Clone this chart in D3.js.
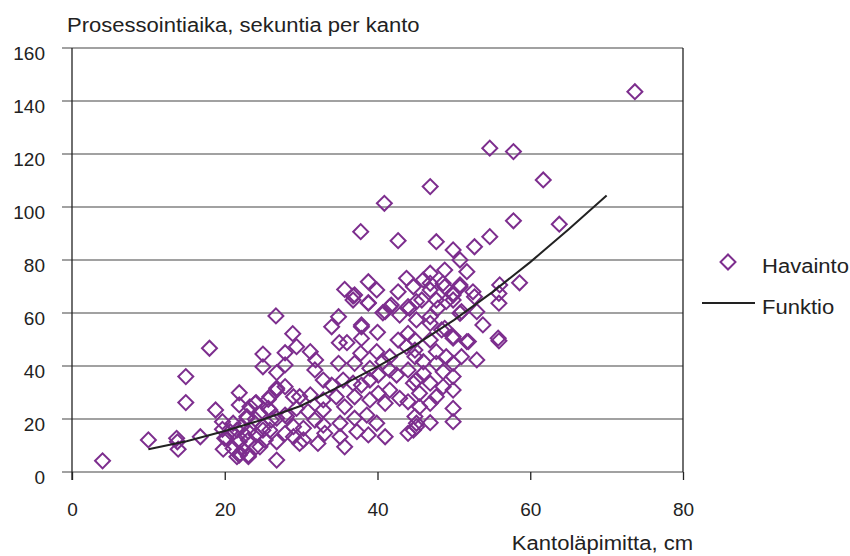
<!DOCTYPE html>
<html>
<head>
<meta charset="utf-8">
<script src="https://cdn.jsdelivr.net/npm/d3@7"></script>
<style>
  body { margin: 0; background: #fff; }
  text { font-family: "Liberation Sans", Arial, sans-serif; fill: #222; }
</style>
</head>
<body>
<svg width="850" height="556"></svg>
<script>
// Havainto: stump diameter (cm) and processing time (s)
const diameter = [
  4, 10, 13.7, 13.8, 13.9, 14.9, 14.9, 16.8, 18, 18.8, 19.7, 19.7, 20, 19.8,
  26.7, 28.9, 29.4, 25, 27.9, 25, 26.8, 27.9, 21.9, 21.9, 24.1, 22.9, 25.7, 26.8, 27.9, 29,
  25.9, 25, 24.1, 23.1, 21.9, 21.1, 21.9, 23.1, 24.1, 26.8, 26.8, 27.9, 29, 27.9, 29, 26.1,
  23.1, 20.7, 24, 24.6, 23.3, 21.6, 22.4, 24.6, 25.3, 25.9, 29.4,
  22, 23.1, 21.6, 28.1, 25.9, 24, 21.1, 22.2, 26.8, 25, 22.6,
  36.8, 38.8, 40.7, 41.6, 42.9, 44.2, 45.1, 34.9, 34, 37.9, 40, 37.9, 35, 36, 31.2, 31.9,
  31.8, 32.9, 34.9, 37, 37.8, 39.9, 41.6, 42.7, 44, 43.8, 44.9, 40.7, 39, 40.1, 41.6, 42.5,
  44, 45.1, 35.5, 34, 36.8, 37.9, 39, 34.6, 32.9, 31.2, 29.8, 30.9, 32.9, 35.7, 37, 39,
  40.1, 41, 42.9, 44, 41.6, 31.8, 30.3, 32.9, 35.1, 37, 38.6, 39.9, 37.3, 35.1, 33.1, 32.2,
  29.8, 35.7, 38.8, 41, 44, 45.1, 30.3,
  40.9, 37.8, 42.7, 35.7, 36.8, 38.8, 39.9, 42.7, 43.8, 44.7,
  46.9, 47.7, 49.9, 50.8, 52.7, 51.7, 46.9, 48.8, 46.9, 48.8, 49.9, 50.8, 52.5, 52.7,
  41.8, 45.8, 46.9, 47.9, 49.9, 48.8, 50.8, 49.9, 51.7, 53,
  54.7, 56, 58.6, 55.9, 55.9, 46, 46.9, 45.1, 47.7, 49, 51, 53, 53.8, 55.8, 55.9, 46.9,
  48.4, 44.9, 46.9, 47.7, 49, 51, 49.9, 47.7, 46, 44.9, 46, 48.6, 49.9, 46.9, 48.6, 49.9,
  44.7, 45.5, 47.7, 46.9, 45.5, 49.9, 49.9, 46.9, 44.9, 44.7, 45.1,
  73.7, 54.7, 57.8, 61.7, 57.8, 63.8,
  // overlapping ones
  26.8, 22.9, 25.7, 20.2, 37, 37.9, 41, 44, 50.8, 48.6, 49.9, 51.9, 49.9, 38.8
];
const seconds = [
  4.2, 12.1, 12.7, 11.4, 8.6, 36, 26.2, 13.3, 46.7, 23.4, 19, 16.1, 12.7, 8.6,
  58.9, 52.2, 47.3, 44.5, 45, 39.7, 37.5, 40.4, 29.9, 25.3, 26.2, 20.3, 27.4, 30.9, 32.2, 28.4,
  23.4, 17.1, 14, 12.1, 11.4, 8.9, 6.4, 6.4, 9.5, 4.5, 11.4, 14.6, 13.3, 21.5, 17.1, 19.6,
  15.2, 15.2, 19.9, 22.1, 24.6, 15.8, 8.3, 9.5, 12.1, 15.8, 24,
  7, 5.8, 5.8, 20.9, 28.4, 25.9, 18.4, 17.1, 20.3, 15.8, 14,
  64.9, 63.7, 60.1, 62.4, 59.2, 61.8, 57.4, 58.6, 54.8, 54.8, 52.7, 50.4, 48.8, 48.8, 45.4, 42.3,
  38.5, 34.7, 41, 41, 44.8, 45.4, 43.5, 49.8, 52.3, 47.3, 46, 41.6, 39.1, 36.6, 38.5, 36.6,
  38.5, 34.7, 34.7, 32.8, 33.5, 32.8, 34.7, 28.4, 27.2, 29.1, 28.4, 22.8, 23.4, 24.6, 28.4, 27.2,
  29.7, 25.9, 27.8, 26.5, 30.9, 19.6, 16.5, 17.7, 18.4, 20.3, 21.5, 18.4, 15.2, 13.3, 14.6, 10.8,
  10.8, 9.5, 14, 13.3, 14.6, 18.4, 12.1,
  101.4, 90.7, 87.3, 68.9, 66.4, 71.8, 68.7, 68, 73.1, 69.9,
  107.7, 86.9, 83.8, 80, 85, 75.6, 75, 76.2, 71.2, 69.9, 66.8, 69.9, 68, 66.1,
  63, 64.9, 58.6, 61.8, 64.9, 54.2, 59.9, 51.1, 49.2, 42.3,
  88.8, 70.6, 71.4, 67.4, 63.7, 72.5, 68.7, 64.3, 64.9, 64.3, 60.5, 60.5, 55.5, 50.5, 49.5, 56.1,
  53.6, 49.8, 49.8, 45.4, 43.5, 43.5, 41, 41, 41.6, 43.5, 37.2, 37.8, 36, 33.5, 32.2, 30.9,
  33.5, 29.7, 28.4, 25.9, 24.6, 24, 19, 18.6, 20.9, 15.8, 17.1,
  143.5, 122.2, 120.9, 110.2, 94.8, 93.5,
  31.6, 20.9, 24, 12.7, 66.8, 55.5, 60.5, 62.4, 70.6, 71.2, 67.4, 49.2, 50.5, 63.9
];

// Funktio: fitted curve
const funcX = [10, 15, 20, 25, 30, 35, 40, 45, 50, 55, 60, 65, 70];
const funcY = [8.6, 11.6, 15.5, 19.8, 25, 32.2, 39.8, 48, 57.3, 67.8, 79.2, 91.5, 104.3];

const xTicks = [0, 20, 40, 60, 80];
const yTicks = [0, 20, 40, 60, 80, 100, 120, 140, 160];

const purple = "#7d2e8e";
const svg = d3.select("svg");
const x = d3.scaleLinear().domain([0, 80]).range([72, 683]);
const y = d3.scaleLinear().domain([0, 160]).range([472, 48]);

// gridlines (incl. the x axis line), stick out a bit to the left like ticks
svg.append("g")
  .selectAll("line")
  .data(yTicks)
  .join("line")
  .attr("x1", 62).attr("x2", x(80))
  .attr("y1", d => y(d)).attr("y2", d => y(d))
  .attr("stroke", "#828282")
  .attr("stroke-width", 1.7);

// y tick labels
svg.append("g")
  .selectAll("text")
  .data(yTicks)
  .join("text")
  .attr("x", 45)
  .attr("y", d => y(d) + 12)
  .attr("text-anchor", "end")
  .attr("font-size", 19)
  .text(d => d);

// x axis ticks + labels
const xAxis = d3.axisBottom(x).tickValues(xTicks).tickSize(8).tickPadding(23);
const gx = svg.append("g").attr("transform", `translate(0,${y(0)})`).call(xAxis);
gx.select(".domain").remove();
gx.selectAll(".tick line").attr("stroke", "#222").attr("stroke-width", 1.3);
gx.selectAll(".tick text")
  .attr("font-size", 19)
  .attr("font-family", "Liberation Sans, Arial, sans-serif")
  .attr("fill", "#222");

// left axis and right border
svg.append("line")
  .attr("x1", x(0)).attr("x2", x(0)).attr("y1", y(160)).attr("y2", y(0) + 8)
  .attr("stroke", "#222").attr("stroke-width", 1.3);
svg.append("line")
  .attr("x1", x(80)).attr("x2", x(80)).attr("y1", y(160)).attr("y2", y(0))
  .attr("stroke", "#222").attr("stroke-width", 1.3);

// titles, a bit wide like the picture
function wideText(tx, ty, str, anchor) {
  svg.append("text")
    .attr("transform", `translate(${tx},${ty}) scale(1.13,1)`)
    .attr("text-anchor", anchor || "start")
    .attr("font-size", 19.5)
    .text(str);
}
wideText(67, 32, "Prosessointiaika, sekuntia per kanto");
wideText(693, 550, "Kantoläpimitta, cm", "end");

// points
const diamond = d3.symbol(d3.symbolSquare, 112);
svg.append("g")
  .selectAll("path")
  .data(diameter.map((d, i) => [d, seconds[i]]))
  .join("path")
  .attr("d", diamond)
  .attr("transform", d => `translate(${x(d[0])},${y(d[1])}) rotate(45)`)
  .attr("fill", "none")
  .attr("stroke", purple)
  .attr("stroke-width", 2);

// function line
const line = d3.line().x(d => x(d[0])).y(d => y(d[1]));
svg.append("path")
  .datum(funcX.map((d, i) => [d, funcY[i]]))
  .attr("d", line)
  .attr("fill", "none")
  .attr("stroke", "#222")
  .attr("stroke-width", 2);

// legend
svg.append("path")
  .attr("d", diamond)
  .attr("transform", "translate(728,262) rotate(45)")
  .attr("fill", "none")
  .attr("stroke", purple)
  .attr("stroke-width", 2);
wideText(762, 273, "Havainto");
svg.append("line")
  .attr("x1", 702).attr("x2", 755).attr("y1", 303).attr("y2", 303)
  .attr("stroke", "#222").attr("stroke-width", 2);
wideText(762, 314, "Funktio");
</script>
</body>
</html>
